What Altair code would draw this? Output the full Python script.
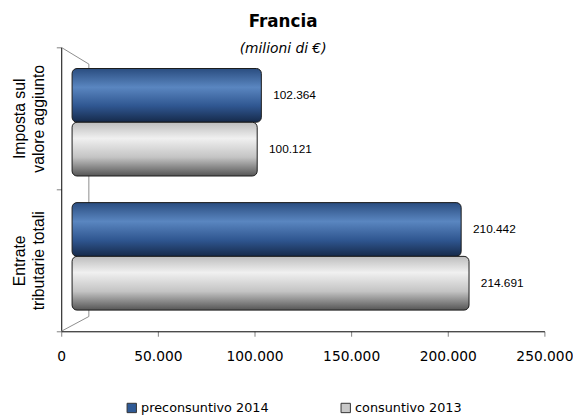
import altair as alt
import pandas as pd

# ---- data ----
category_lines = [["Imposta sul", "valore aggiunto"], ["Entrate", "tributarie totali"]]
categories = [" ".join(l) for l in category_lines]
series = ["preconsuntivo 2014", "consuntivo 2013"]
values_2014 = [102364, 210442]
values_2013 = [100121, 214691]
x_ticks = [0, 50000, 100000, 150000, 200000, 250000]

rows = []
for c, v14, v13 in zip(categories, values_2014, values_2013):
    rows.append({"category": c, "series": series[0], "value": v14})
    rows.append({"category": c, "series": series[1], "value": v13})
df = pd.DataFrame(rows)

FONT = "DejaVu Sans"
label_expr_y = " : ".join(
    [f"datum.value == '{c}' ? {l!r}" for c, l in zip(categories, category_lines)]
) + " : datum.value"
num_fmt = "replace(format(datum.value, ','), ',', '.')"

# ---- axis / legend layer ----
base = alt.Chart(df).mark_square(opacity=0, size=1).encode(
    x=alt.X("value:Q",
            scale=alt.Scale(domain=[0, 250000], nice=False, zero=True),
            axis=alt.Axis(values=x_ticks, labelExpr=num_fmt, title=None, grid=False,
                          domainColor="black", tickColor="#808080", tickSize=5,
                          labelFontSize=14, labelFont=FONT, labelColor="black",
                          labelPadding=14, labelFlush=False)),
    y=alt.Y("category:N", sort=categories,
            scale=alt.Scale(domain=categories, paddingInner=0, paddingOuter=0),
            axis=alt.Axis(title=None, tickBand="extent", labelAngle=-90,
                          labelAlign="center", labelBaseline="bottom",
                          labelExpr=label_expr_y, labelFontSize=16,
                          labelFont="Liberation Sans", labelColor="black",
                          labelLineHeight=19, labelPadding=29, domainColor="black",
                          tickColor="#808080", tickSize=5)),
    color=alt.Color("series:N",
                    scale=alt.Scale(domain=series, range=["#2f5a96", "#c8c8c8"]),
                    legend=alt.Legend(title=None, orient="none", direction="horizontal",
                                      legendX=65, legendY=359, symbolType="square",
                                      symbolSize=90, symbolOpacity=1,
                                      symbolStrokeColor="#333333", symbolStrokeWidth=1,
                                      labelFontSize=13, labelFont=FONT, labelColor="black",
                                      labelOffset=3, columnPadding=70)),
)

# ---- 3D frame (decoration) ----
one = pd.DataFrame({"a": [0]})
frame_style = dict(color="#8c8c8c", strokeWidth=1)
f1 = alt.Chart(one).mark_rule(**frame_style).encode(
    x=alt.value(0), y=alt.value(0), x2=alt.value(28), y2=alt.value(17))
f2 = alt.Chart(one).mark_rule(**frame_style).encode(
    x=alt.value(28), y=alt.value(17), x2=alt.value(28), y2=alt.value(273))
f3 = alt.Chart(one).mark_rule(**frame_style).encode(
    x=alt.value(28), y=alt.value(273), x2=alt.value(0), y2=alt.value(288))

# ---- bars ----
bx = alt.X("value:Q", scale=alt.Scale(domain=[-5867, 255467], nice=False, zero=False),
           axis=None)
bx0 = alt.X2(datum=0)
by = alt.Y("category:N", sort=categories,
           scale=alt.Scale(domain=categories, paddingInner=0.1985, paddingOuter=0.158),
           axis=None)
byo = alt.YOffset("series:N", sort=series,
                  scale=alt.Scale(domain=series, paddingInner=0, paddingOuter=0))


def grad(stops):
    return alt.LinearGradient(
        gradient="linear", x1=0, x2=0, y1=0, y2=1,
        stops=[alt.GradientStop(offset=o, color=c) for o, c in stops])


blue = grad([(0, "#2a4d80"), (0.35, "#5a86c0"), (0.7, "#2f5690"), (1, "#162a4a")])
grey = grad([(0, "#bdbdbd"), (0.3, "#f0f0f0"), (0.65, "#c4c4c4"), (1, "#555555")])

bar_blue = alt.Chart(df).transform_filter(alt.datum.series == series[0]).mark_bar(
    fill=blue, stroke="#1a1a1a", strokeWidth=1, cornerRadius=5
).encode(x=bx, x2=bx0, y=by, yOffset=byo)
bar_grey = alt.Chart(df).transform_filter(alt.datum.series == series[1]).mark_bar(
    fill=grey, stroke="#1a1a1a", strokeWidth=1, cornerRadius=5
).encode(x=bx, x2=bx0, y=by, yOffset=byo)

labels = alt.Chart(df).transform_calculate(
    lbl=num_fmt
).mark_text(align="left", baseline="middle", dx=12, fontSize=12,
            font="Liberation Sans", color="black").encode(
    x=bx, y=by, yOffset=byo, text="lbl:N")

bars = alt.layer(bar_blue, bar_grey, labels)

chart = alt.layer(f1, f2, f3, base, bars).resolve_scale(
    x="independent", y="independent"
).properties(
    width=490, height=288,
    autosize=alt.AutoSizeParams(type="none"),
    padding={"left": 54, "top": 37, "right": 29, "bottom": 82},
    title=alt.TitleParams("Francia", subtitle="(milioni di €)", anchor="middle",
                          frame="group", dx=-20, offset=-10, fontSize=17,
                          font=FONT, fontWeight="bold", color="black",
                          subtitleFont=FONT, subtitleFontSize=14,
                          subtitleFontStyle="italic", subtitleColor="black",
                          subtitlePadding=11),
).configure_view(stroke=None)

chart.save("out.html", embed_options={"renderer": "svg", "actions": False})
